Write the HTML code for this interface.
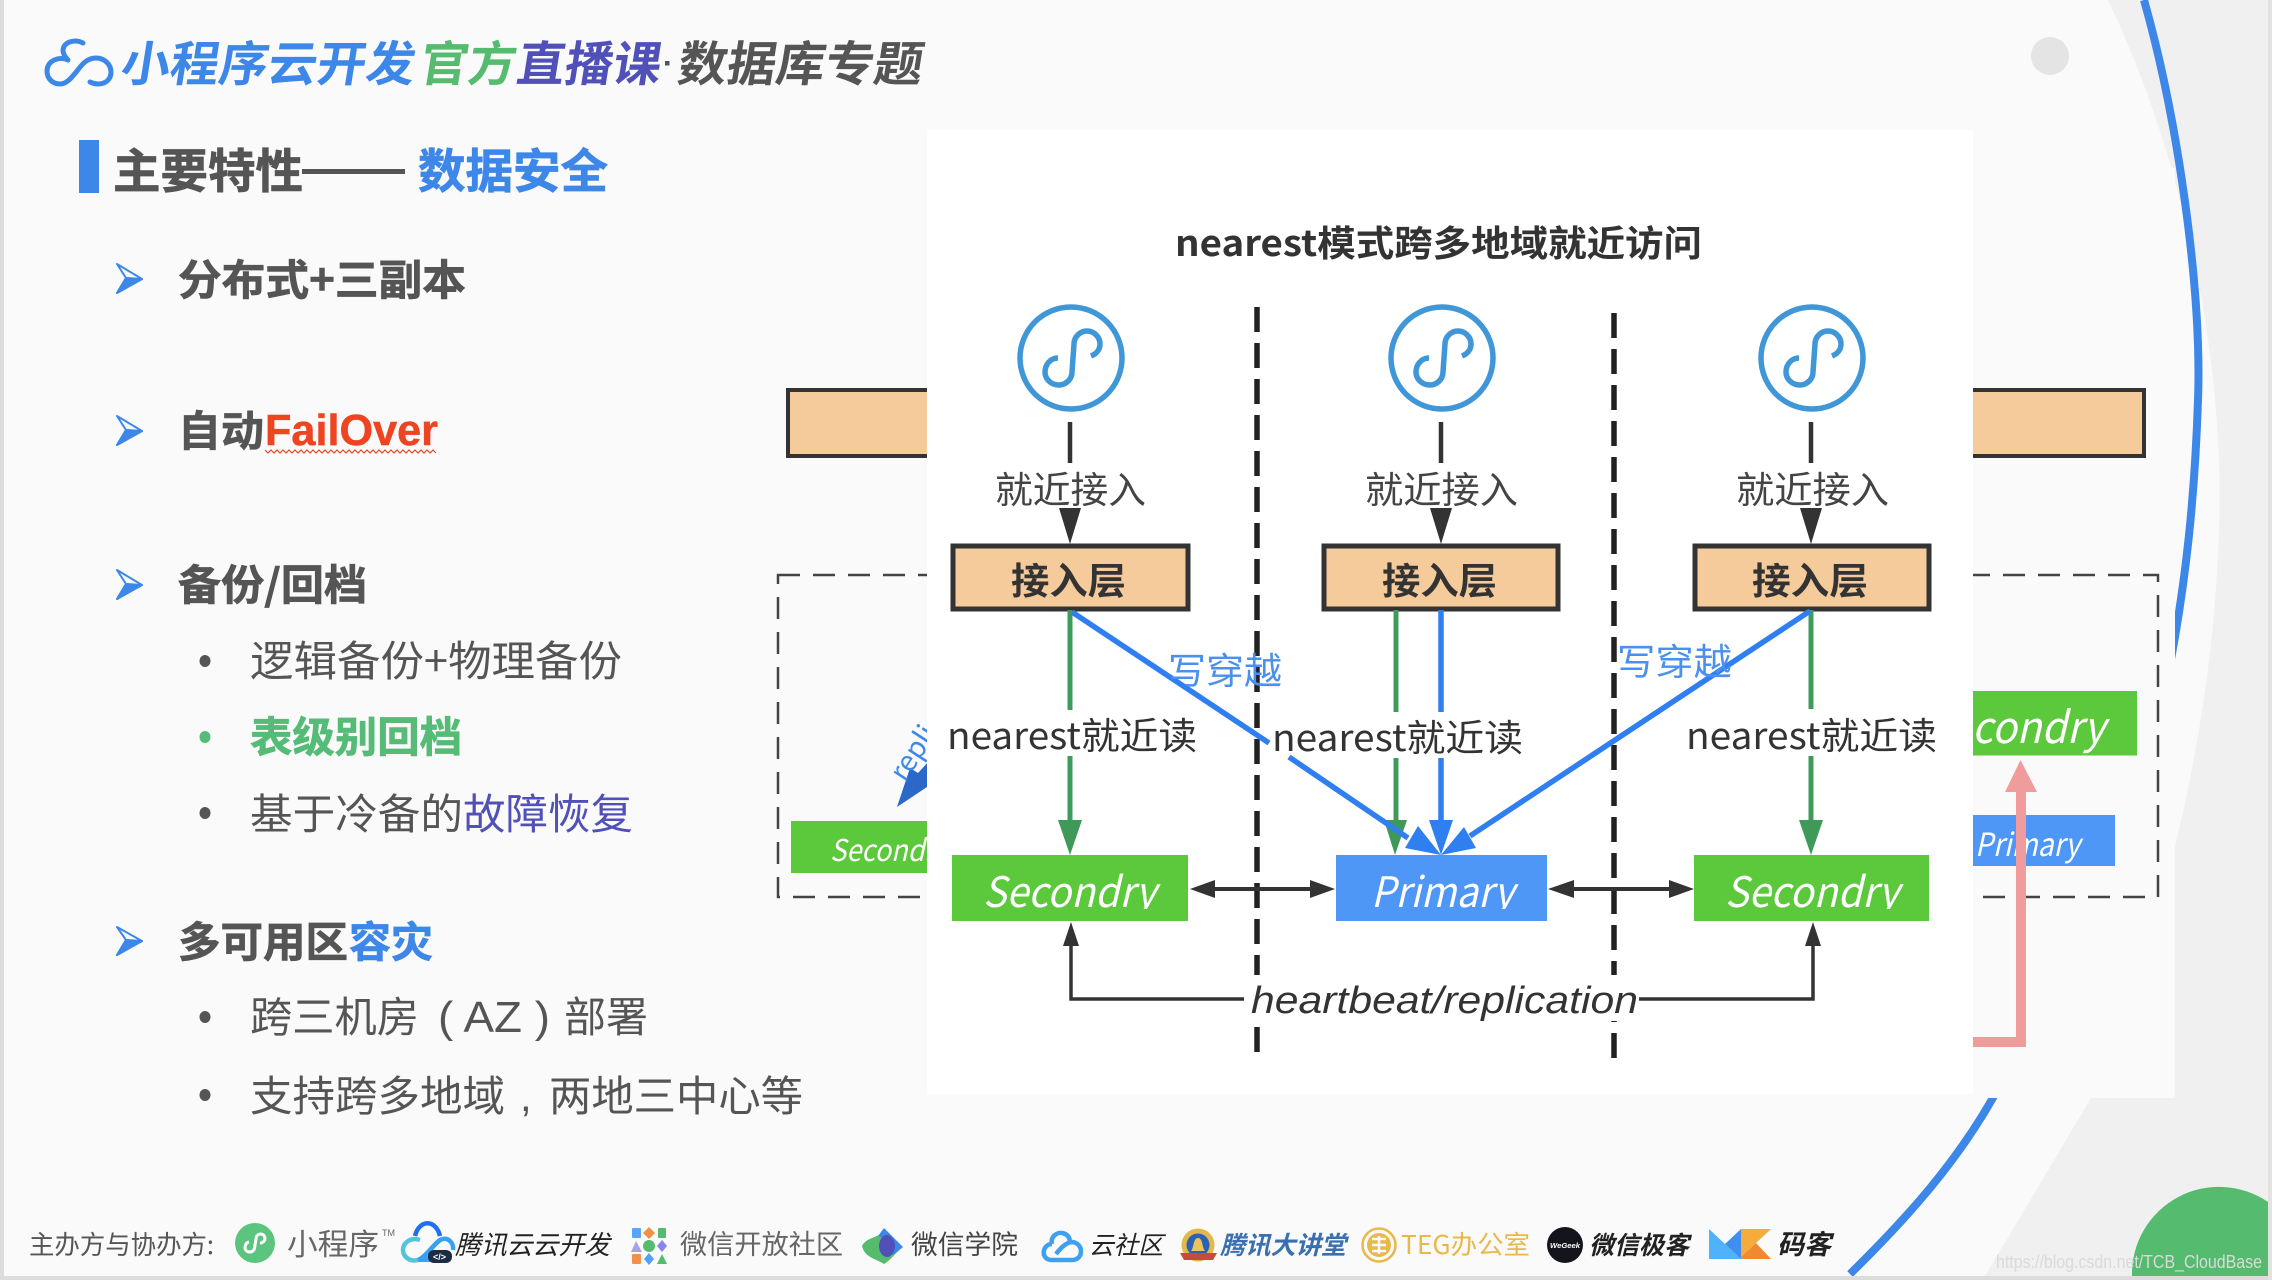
<!DOCTYPE html>
<html lang="zh"><head><meta charset="utf-8"><title>数据库专题</title>
<style>
html,body{margin:0;padding:0;background:#fafafa;width:2272px;height:1280px;overflow:hidden}
svg{display:block;overflow:hidden}
text{font-family:"Liberation Sans","Noto Sans CJK SC",sans-serif;white-space:pre}
.c{font-family:"Noto Sans CJK SC","Liberation Sans",sans-serif}
.b{font-weight:700}
.i{font-style:italic}
.g{fill:#555}
.g.b{stroke:#555;stroke-width:.7px}
.w{fill:#fff;font-style:italic;font-family:"Noto Sans CJK SC","Liberation Sans",sans-serif}
</style></head><body>
<svg xmlns="http://www.w3.org/2000/svg" width="2272" height="1280" viewBox="0 0 2272 1280">
<defs>
<clipPath id="bx"><rect x="0" y="855" width="2272" height="54"/></clipPath>
</defs>
<rect width="2272" height="1280" fill="#fafafa"/>
<path d="M2108,0 C2180,150 2225,350 2219,528 C2212,760 2150,960 2091,1098 L1985,1276 L2272,1276 L2272,0 Z" fill="#f0f0f0"/>
<path d="M2144,0 C2178,120 2202,290 2198,400 C2195,490 2187,580 2167,680" fill="none" stroke="#3d87e8" stroke-width="8"/>
<path d="M2000,1085 C1960,1160 1905,1220 1850,1274" fill="none" stroke="#3d87e8" stroke-width="8"/>
<rect x="927" y="168" width="1248" height="930" fill="#fafafa"/>
<path d="M2132,1276 A87,87 0 0 1 2268,1202 V1276 Z" fill="#55bb6f"/>
<rect x="0" y="0" width="4" height="1280" fill="#dcdcdc"/>
<rect x="0" y="1276" width="2272" height="4" fill="#dcdcdc"/>
<rect x="2268" y="0" width="4" height="1280" fill="#e2e2e2"/>
<circle cx="2050" cy="56" r="19" fill="#e4e4e4"/>

<!-- title -->
<path d="M83,43 C76,39 64,41 63,50 C63,54 65,57 68,60 C60,56 47,60 47,71 C47,79 53,84 60,84 C67,84 72,77 77,71 C81,66 86,58 96,58 C104,58 111,64 111,72 C111,80 105,84 98,84 C95,84 92,83 90,82" fill="none" stroke="#3d87e8" stroke-width="5" stroke-linecap="round" stroke-linejoin="round"/>
<text class="c b" transform="translate(119,81) skewX(-9)" font-size="48" fill="#3d87e8" textLength="294" lengthAdjust="spacingAndGlyphs">小程序云开发</text>
<text class="c b" transform="translate(418,81) skewX(-9)" font-size="48" fill="#55bb6f" textLength="96" lengthAdjust="spacingAndGlyphs">官方</text>
<text class="c b" transform="translate(515,81) skewX(-9)" font-size="48" fill="#5050b8" textLength="144" lengthAdjust="spacingAndGlyphs">直播课</text>
<rect x="665" y="61" width="4.500" height="4.500" fill="#555"/>
<text class="c b" transform="translate(676,81) skewX(-9)" font-size="48" fill="#555" textLength="245" lengthAdjust="spacingAndGlyphs">数据库专题</text>

<!-- heading -->
<rect x="79" y="140" width="20" height="53" fill="#3d87e8"/>
<text class="c b g" x="113" y="188" font-size="47" textLength="190" lengthAdjust="spacingAndGlyphs">主要特性</text>
<rect x="302" y="169" width="103" height="5" fill="#555"/>
<text class="c b" x="418" y="188" font-size="47" fill="#3d87e8" stroke="#3d87e8" stroke-width=".7" textLength="190" lengthAdjust="spacingAndGlyphs">数据安全</text>

<!-- bullets -->
<g id="arrows" fill="#3d87e8" stroke="#3d87e8" stroke-width="2" stroke-linejoin="round">
<path d="M117,264 L142,279 L117,293 L126,278 Z" fill="none"/><path d="M126,278 L142,279 L117,293 Z"/>
<path d="M117,416 L142,431 L117,445 L126,430 Z" fill="none"/><path d="M126,430 L142,431 L117,445 Z"/>
<path d="M117,570 L142,585 L117,599 L126,584 Z" fill="none"/><path d="M126,584 L142,585 L117,599 Z"/>
<path d="M117,927 L142,941 L117,955 L126,940 Z" fill="none"/><path d="M126,940 L142,941 L117,955 Z"/>
</g>
<text class="c b g" x="178" y="295" font-size="42" textLength="288" lengthAdjust="spacingAndGlyphs">分布式+三副本</text>
<text class="c b g" x="178" y="446" font-size="42" textLength="86" lengthAdjust="spacingAndGlyphs">自动</text>
<text class="b" x="265" y="445" font-size="44" fill="#ee4422" stroke="#ee4422" stroke-width=".5" textLength="173" lengthAdjust="spacingAndGlyphs">FailOver</text>
<path d="M265,450 l3,3 3,-3 3,3 3,-3 3,3 3,-3 3,3 3,-3 3,3 3,-3 3,3 3,-3 3,3 3,-3 3,3 3,-3 3,3 3,-3 3,3 3,-3 3,3 3,-3 3,3 3,-3 3,3 3,-3 3,3 3,-3 3,3 3,-3 3,3 3,-3 3,3 3,-3 3,3 3,-3 3,3 3,-3 3,3 3,-3 3,3 3,-3 3,3 3,-3 3,3 3,-3 3,3 3,-3 3,3 3,-3 3,3 3,-3 3,3 3,-3 3,3 3,-3 3,3" fill="none" stroke="#ee4422" stroke-width="1.2"/>
<text class="c b g" x="178" y="600" font-size="42" textLength="189" lengthAdjust="spacingAndGlyphs">备份/回档</text>
<ellipse cx="205" cy="661" rx="5.500" ry="6" fill="#555"/>
<text class="c g" x="250" y="676" font-size="42" textLength="372" lengthAdjust="spacingAndGlyphs">逻辑备份+物理备份</text>
<ellipse cx="205" cy="737" rx="5.500" ry="6" fill="#55bb77"/>
<text class="c b" x="250" y="752" font-size="42" fill="#55bb77" stroke="#55bb77" stroke-width=".7" textLength="212" lengthAdjust="spacingAndGlyphs">表级别回档</text>
<ellipse cx="205" cy="813" rx="5.500" ry="6" fill="#555"/>
<text class="c g" x="250" y="829" font-size="42" textLength="213" lengthAdjust="spacingAndGlyphs">基于冷备的</text>
<text class="c" x="463" y="829" font-size="42" fill="#5050b8" textLength="170" lengthAdjust="spacingAndGlyphs">故障恢复</text>
<text class="c b g" x="178" y="957" font-size="42" textLength="170" lengthAdjust="spacingAndGlyphs">多可用区</text>
<text class="c b" x="349" y="957" font-size="42" fill="#3d87e8" stroke="#3d87e8" stroke-width=".7" textLength="84" lengthAdjust="spacingAndGlyphs">容灾</text>
<ellipse cx="205" cy="1017" rx="5.500" ry="6" fill="#555"/>
<text class="c g" x="250" y="1032" font-size="42" textLength="169" lengthAdjust="spacingAndGlyphs">跨三机房</text>
<text class="g" x="438" y="1032" font-size="44" textLength="112" lengthAdjust="spacingAndGlyphs">( AZ )</text>
<text class="c g" x="564" y="1032" font-size="42" textLength="84" lengthAdjust="spacingAndGlyphs">部署</text>
<ellipse cx="205" cy="1095" rx="5.500" ry="6" fill="#555"/>
<text class="c g" x="250" y="1111" font-size="42" textLength="255" lengthAdjust="spacingAndGlyphs">支持跨多地域</text>
<text class="g" x="520" y="1111" font-size="42">,</text>
<text class="c g" x="549" y="1111" font-size="42" textLength="254" lengthAdjust="spacingAndGlyphs">两地三中心等</text>

<!-- background diagram -->
<rect x="778" y="575" width="1380" height="322" fill="none" stroke="#444" stroke-width="2.500" stroke-dasharray="22 13"/>
<rect x="788" y="390" width="160" height="66" fill="#f6cb9c" stroke="#333" stroke-width="4"/>
<rect x="1950" y="390" width="194" height="66" fill="#f6cb9c" stroke="#333" stroke-width="4"/>
<rect x="791" y="821" width="150" height="52" fill="#5cc83c"/>
<text class="w" x="830" y="861" font-size="30" textLength="120" lengthAdjust="spacingAndGlyphs">Secondry</text>
<path d="M897,807 L910,768 L918,773 L930,760 L930,785 Z" fill="#2b68c8"/>
<text font-size="28" fill="#3d87e8" class="c" transform="translate(905,783) rotate(-57)">replication</text>
<rect x="1900" y="691" width="237" height="64.500" fill="#5cc83c"/>
<text class="w" x="1972" y="743" font-size="44" textLength="133" lengthAdjust="spacingAndGlyphs">condry</text>
<rect x="1900" y="815" width="215" height="51" fill="#4f97f7"/>
<text class="w" x="1975" y="856" font-size="32" textLength="105" lengthAdjust="spacingAndGlyphs">Primary</text>
<path d="M1960,1037 H2016 V792 H2005 L2020.500,760 L2037,792 H2026 V1047 H1960 Z" fill="#f09c9c"/>

<!-- white panel -->
<rect x="927" y="130" width="1046" height="964" fill="#fff"/>
<text class="c b" x="1175" y="256" font-size="36" fill="#333" textLength="527" lengthAdjust="spacingAndGlyphs">nearest模式跨多地域就近访问</text>

<line x1="1257" y1="307" x2="1257" y2="1053" stroke="#222" stroke-width="5.500" stroke-dasharray="25 11"/>
<line x1="1614" y1="313" x2="1614" y2="1058" stroke="#222" stroke-width="5.500" stroke-dasharray="25 11"/>
<rect x="1245" y="975" width="394" height="46" fill="#fff"/>

<g id="mini" fill="none" stroke="#3f97d8">
<g><ellipse cx="1071" cy="358" rx="51" ry="51" stroke-width="5.500"/>
<path d="M1058,358 C1051,358 1045,364 1045,372 C1045,379 1051,385 1059,385 C1066,385 1072,379 1072,372 L1074,344 C1074,337 1080,331 1087,331 C1094,331 1100,337 1100,344 C1100,350 1096,354 1091,356" stroke-width="5.500"/></g>
<g transform="translate(371,0)"><ellipse cx="1071" cy="358" rx="51" ry="51" stroke-width="5.500"/>
<path d="M1058,358 C1051,358 1045,364 1045,372 C1045,379 1051,385 1059,385 C1066,385 1072,379 1072,372 L1074,344 C1074,337 1080,331 1087,331 C1094,331 1100,337 1100,344 C1100,350 1096,354 1091,356" stroke-width="5.500"/></g>
<g transform="translate(741,0)"><ellipse cx="1071" cy="358" rx="51" ry="51" stroke-width="5.500"/>
<path d="M1058,358 C1051,358 1045,364 1045,372 C1045,379 1051,385 1059,385 C1066,385 1072,379 1072,372 L1074,344 C1074,337 1080,331 1087,331 C1094,331 1100,337 1100,344 C1100,350 1096,354 1091,356" stroke-width="5.500"/></g>
</g>

<g stroke="#333" stroke-width="4.500">
<line x1="1070" y1="422" x2="1070" y2="463"/><line x1="1441" y1="422" x2="1441" y2="463"/><line x1="1811" y1="422" x2="1811" y2="463"/>
</g>
<g fill="#333">
<path d="M1059,508 H1081 L1070,544 Z"/><path d="M1430,508 H1452 L1441,544 Z"/><path d="M1800,508 H1822 L1811,544 Z"/>
</g>
<g font-size="37" fill="#444">
<text class="c" x="995" y="503" textLength="151" lengthAdjust="spacingAndGlyphs">就近接入</text>
<text class="c" x="1365" y="503" textLength="153" lengthAdjust="spacingAndGlyphs">就近接入</text>
<text class="c" x="1736" y="503" textLength="153" lengthAdjust="spacingAndGlyphs">就近接入</text>
</g>
<g fill="#f6cb9c" stroke="#333" stroke-width="5">
<rect x="953" y="546" width="235" height="63"/><rect x="1324" y="546" width="234" height="63"/><rect x="1695" y="546" width="234" height="63"/>
</g>
<g font-size="37" fill="#333">
<text class="c b" x="1011" y="594" textLength="115" lengthAdjust="spacingAndGlyphs">接入层</text>
<text class="c b" x="1382" y="594" textLength="115" lengthAdjust="spacingAndGlyphs">接入层</text>
<text class="c b" x="1752" y="594" textLength="116" lengthAdjust="spacingAndGlyphs">接入层</text>
</g>

<!-- read lines -->
<g stroke="#3f9b5b" stroke-width="5">
<line x1="1070" y1="610" x2="1070" y2="710"/><line x1="1070" y1="756" x2="1070" y2="822"/>
<line x1="1396" y1="610" x2="1396" y2="712"/><line x1="1396" y1="758" x2="1396" y2="822"/>
<line x1="1811" y1="610" x2="1811" y2="709"/><line x1="1811" y1="756" x2="1811" y2="822"/>
</g>
<g fill="#3f9958">
<path d="M1058,820 H1082 L1070,855 Z"/><path d="M1384,820 H1407 L1395,855 Z"/><path d="M1799,820 H1823 L1811,855 Z"/>
</g>
<!-- write lines -->
<g stroke="#2f7ff0" stroke-width="5.500" fill="none">
<line x1="1441" y1="610" x2="1441" y2="712"/><line x1="1441" y1="758" x2="1441" y2="822"/>
<path d="M1072,612 L1269,743"/>
<path d="M1289,757 L1408,838"/>
<path d="M1810,611 L1470,836"/>
</g>
<g fill="#2f7ff0">
<path d="M1429,820 H1453 L1441,855 Z"/>
<path d="M1441,855 L1405,848 L1418,826 Z"/>
<path d="M1441,855 L1464,827 L1476,848 Z"/>
</g>
<text class="c" x="1168" y="684" font-size="37" fill="#4a90f0" textLength="114" lengthAdjust="spacingAndGlyphs">写穿越</text>
<text class="c" x="1617" y="675" font-size="37" fill="#4a90f0" textLength="115" lengthAdjust="spacingAndGlyphs">写穿越</text>
<g font-size="37" fill="#333">
<text class="c" x="947" y="749" textLength="250" lengthAdjust="spacingAndGlyphs">nearest就近读</text>
<text class="c" x="1272" y="751" textLength="251" lengthAdjust="spacingAndGlyphs">nearest就近读</text>
<text class="c" x="1686" y="749" textLength="251" lengthAdjust="spacingAndGlyphs">nearest就近读</text>
</g>

<!-- nodes -->
<rect x="952" y="855" width="236" height="66" fill="#5cc83c"/>
<rect x="1336" y="855" width="211" height="66" fill="#4f97f7"/>
<rect x="1694" y="855" width="235" height="66" fill="#5cc83c"/>
<g clip-path="url(#bx)">
<text class="w" x="983" y="907" font-size="42" textLength="173" lengthAdjust="spacingAndGlyphs">Secondry</text>
<text class="w" x="1371" y="907" font-size="42" textLength="143" lengthAdjust="spacingAndGlyphs">Primary</text>
<text class="w" x="1725" y="907" font-size="42" textLength="174" lengthAdjust="spacingAndGlyphs">Secondry</text>
</g>
<g stroke="#333" stroke-width="4"><line x1="1210" y1="889" x2="1315" y2="889"/><line x1="1570" y1="889" x2="1675" y2="889"/></g>
<g fill="#333">
<path d="M1190,889 L1215,880 V898 Z"/><path d="M1335,889 L1310,880 V898 Z"/>
<path d="M1548,889 L1574,880 V898 Z"/><path d="M1694,889 L1669,880 V898 Z"/>
</g>
<path d="M1071,940 V999 H1244 M1639,999 H1813 V940" fill="none" stroke="#333" stroke-width="3.500"/>
<g fill="#333"><path d="M1071,922 L1079,946 H1063 Z"/><path d="M1813,922 L1821,946 H1805 Z"/></g>
<text class="i" x="1251" y="1013" font-size="38" fill="#333" textLength="387" lengthAdjust="spacingAndGlyphs">heartbeat/replication</text>

<!-- footer -->
<text class="c" x="29" y="1254" font-size="26" fill="#555" textLength="185" lengthAdjust="spacingAndGlyphs">主办方与协办方:</text>
<circle cx="255" cy="1243" r="20" fill="#5bc47f"/>
<path d="M249,1242 C244,1243 243,1252 250,1252 C254,1252 255,1248 255,1245 L256,1239 C256,1233 264,1232 265,1238 C265,1241 263,1243 260,1243" fill="none" stroke="#fff" stroke-width="3"/>
<text class="c" x="287" y="1255" font-size="30" fill="#666" textLength="92" lengthAdjust="spacingAndGlyphs">小程序</text>
<text x="382" y="1236" font-size="9" fill="#666">TM</text>

<path d="M415,1236 C419,1219 436,1219 440,1236" fill="none" stroke="#1f6ff0" stroke-width="4.500"/>
<path d="M420,1240 C410,1237 403,1243 403,1250 C403,1257 410,1262 418,1260 C425,1258 433,1245 440,1240" fill="none" stroke="#52c4dc" stroke-width="4.500"/>
<path d="M418,1260 C425,1258 433,1245 440,1240 C448,1236 454,1243 453,1250" fill="none" stroke="#3aa0f0" stroke-width="4.500"/>
<path d="M418,1262 H436 V1256 H424 Z" fill="#3aa0f0"/>
<rect x="428" y="1250" width="24" height="13" rx="6" fill="#1d2c44"/>
<text x="433" y="1260" font-size="9" fill="#fff" class="b">&lt;/&gt;</text>
<text class="c i" x="455" y="1254" font-size="26" fill="#222" textLength="155" lengthAdjust="spacingAndGlyphs">腾讯云云开发</text>

<g>
<rect x="632" y="1228" width="9" height="10" rx="1" fill="#5aa6f5"/>
<path d="M649,1227 L655,1233 L649,1239 L643,1233 Z" fill="#f29049"/>
<rect x="658" y="1228" width="8" height="10" rx="1" fill="#55bb6f"/>
<path d="M636,1241 L642,1252 H631 Z" fill="#a9a0ee"/>
<circle cx="649" cy="1246" r="6" fill="#55bb6f"/>
<path d="M662,1240 L667,1246 L662,1252 L657,1246 Z" fill="#8a84ee"/>
<rect x="632" y="1254" width="9" height="10" rx="1" fill="#f29049"/>
<path d="M649,1253 L654,1259 L649,1265 L644,1259 Z" fill="#4fa2f5"/>
<path d="M662,1254 L667,1264 H657 Z" fill="#55bb6f"/>
</g>
<text class="c" x="680" y="1254" font-size="27" fill="#666" textLength="163" lengthAdjust="spacingAndGlyphs">微信开放社区</text>

<path d="M862,1246 C866,1238 876,1238 884,1232 L902,1248 C896,1252 893,1258 884,1264 C875,1258 865,1258 862,1246 Z" fill="#55bb6f"/>
<path d="M884,1228 L903,1247 L893,1255 C890,1244 885,1238 878,1236 Z" fill="#3d87e8"/>
<ellipse cx="887" cy="1246" rx="8" ry="11" fill="#5050b8"/>
<text class="c" x="911" y="1254" font-size="26.500" fill="#444" textLength="107" lengthAdjust="spacingAndGlyphs">微信学院</text>

<g fill="none" stroke="#3fa0f0" stroke-width="4.500">
<path d="M1052,1244 C1042,1244 1040,1260 1052,1260 H1072 C1084,1260 1084,1243 1072,1242 C1068,1242 1062,1246 1056,1254"/>
<path d="M1052,1244 C1050,1236 1058,1232 1062,1233 C1068,1234 1070,1238 1070,1243"/>
</g>
<text class="c i" x="1089" y="1254" font-size="25" fill="#222" textLength="74" lengthAdjust="spacingAndGlyphs">云社区</text>

<circle cx="1198" cy="1245" r="16.500" fill="#e4b64c"/>
<circle cx="1198" cy="1245" r="11.500" fill="#2a62b8"/>
<path d="M1191,1251 C1194,1248 1193,1238 1198,1238 C1203,1238 1202,1248 1205,1251 Z" fill="#edc25a"/>
<path d="M1180,1253 L1217,1253 L1213,1260 H1184 Z" fill="#c84a3a"/>
<text class="c b i" x="1220" y="1254" font-size="25" fill="#3a6fb0" textLength="126" lengthAdjust="spacingAndGlyphs">腾讯大讲堂</text>

<circle cx="1379" cy="1245" r="16.500" fill="none" stroke="#e8b84a" stroke-width="2.500"/>
<circle cx="1379" cy="1245" r="12" fill="#e8b84a"/>
<path d="M1372,1239 H1386 M1372,1245 H1386 M1372,1251 H1386 M1379,1236 V1254" stroke="#fafafa" stroke-width="2.500"/>
<text class="c" x="1401" y="1254" font-size="26" fill="#e8b84a" textLength="129" lengthAdjust="spacingAndGlyphs">TEG办公室</text>

<circle cx="1565" cy="1245" r="18" fill="#14141c"/>
<text class="b i" x="1550" y="1248" font-size="7" fill="#fff" textLength="30" lengthAdjust="spacingAndGlyphs">WeGeek</text>
<text class="c b i" x="1589" y="1254" font-size="25" fill="#222" textLength="100" lengthAdjust="spacingAndGlyphs">微信极客</text>

<path d="M1709,1229 L1741,1259 H1709 Z" fill="#4fb2fb"/>
<path d="M1741,1229 V1259 L1725,1244 Z" fill="#3f8ff0"/>
<path d="M1741,1229 H1771 L1741,1257 Z" fill="#f5ac3c"/>
<path d="M1741,1259 H1771 L1756,1243 L1741,1257 Z" fill="#f08a30"/>
<text class="c b i" x="1777" y="1254" font-size="27" fill="#222" textLength="54" lengthAdjust="spacingAndGlyphs">码客</text>

<text x="1996" y="1268" font-size="18" fill="#dadada" textLength="266" lengthAdjust="spacingAndGlyphs">https://blog.csdn.net/TCB_CloudBase</text>
</svg>
</body></html>
